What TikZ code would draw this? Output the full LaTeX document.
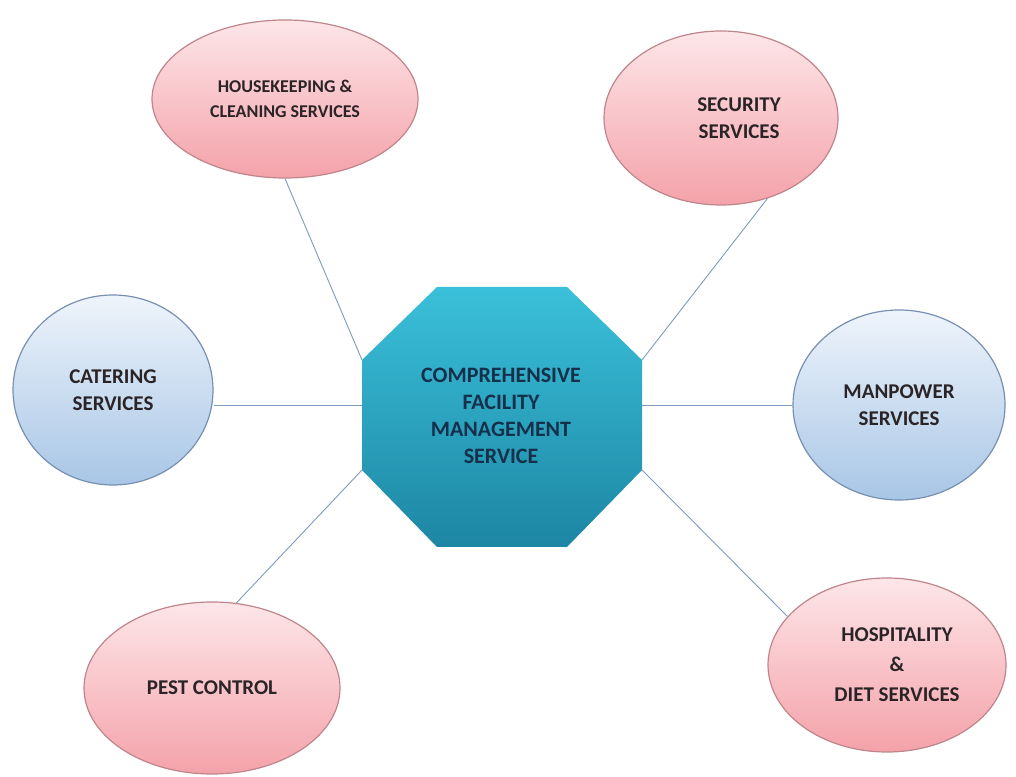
\documentclass[tikz,border=0pt]{standalone}
\usepackage{fontspec}
\setmainfont{Carlito}
\usepackage{tikz}
\usetikzlibrary{shapes.geometric,calc}
\definecolor{pinktop}{HTML}{FDE6E8}
\definecolor{pinkbottom}{HTML}{F4A2AA}
\definecolor{pinkedge}{HTML}{BF858B}
\definecolor{bluetop}{HTML}{EEF4FB}
\definecolor{bluebottom}{HTML}{A8C6E6}
\definecolor{blueedge}{HTML}{7890B0}
\definecolor{octtop}{HTML}{3AC0DA}
\definecolor{octbottom}{HTML}{1D86A4}
\definecolor{octtext}{HTML}{15304A}
\definecolor{spoke}{HTML}{7F9BBF}
\definecolor{labeltext}{HTML}{2B2426}

\tikzset{
  service/.style={ellipse, draw=pinkedge, line width=1.2pt, top color=pinktop,
    bottom color=pinkbottom, inner sep=0pt, align=center, text=labeltext,
    font=\bfseries\fontsize{21}{27}\selectfont},
  bluesrv/.style={service, draw=blueedge, top color=bluetop, bottom color=bluebottom},
  spokeline/.style={draw=spoke, line width=0.9pt}
}

\begin{document}
\begin{tikzpicture}[x=1pt,y=1pt]
    \fill[white] (0,0) rectangle (1016,776);
    \useasboundingbox (0,0) rectangle (1016,776);

    % Central octagon
    \coordinate (oct-n1) at (437,489);
    \coordinate (oct-n2) at (567,489);
    \coordinate (oct-ne) at (642,416);
    \coordinate (oct-se) at (642,306);
    \coordinate (oct-s2) at (567,229);
    \coordinate (oct-s1) at (437,229);
    \coordinate (oct-sw) at (362,306);
    \coordinate (oct-nw) at (362,416);
    \coordinate (oct-w) at (362,371);
    \coordinate (oct-e) at (642,371);
    \shade[top color=octtop, bottom color=octbottom]
        (oct-n1) -- (oct-n2) -- (oct-ne) -- (oct-se) -- (oct-s2)
        -- (oct-s1) -- (oct-sw) -- (oct-nw) -- cycle;
    \node[align=center, text=octtext, font=\bfseries\fontsize{22}{27}\selectfont]
        (hub) at (501,360) {COMPREHENSIVE\\FACILITY\\MANAGEMENT\\SERVICE};

    % Service ellipses
    \node[service, minimum width=266pt, minimum height=158pt,
        font=\bfseries\fontsize{18}{25}\selectfont] (house) at (285,677)
        {HOUSEKEEPING \&\\CLEANING SERVICES};
    \node[service, minimum width=234pt, minimum height=174pt] (security) at (721,658)
        {\hspace*{36pt}SECURITY\\\hspace*{36pt}SERVICES};
    \node[bluesrv, minimum width=200pt, minimum height=190pt] (catering) at (113,386)
        {CATERING\\SERVICES};
    \node[bluesrv, minimum width=212pt, minimum height=190pt] (manpower) at (899,371)
        {MANPOWER\\SERVICES};
    \node[service, minimum width=256pt, minimum height=172pt] (pest) at (212,88)
        {PEST CONTROL};
    \node[service, minimum width=238pt, minimum height=174pt,
        font=\bfseries\fontsize{21}{30}\selectfont] (hospitality) at (887,111)
        {\hspace*{20pt}HOSPITALITY\\\hspace*{20pt}\&\\\hspace*{20pt}DIET SERVICES};

    % Spokes
    \draw[spokeline] (house.south) -- (oct-nw);
    \draw[spokeline] (security.-60) -- (oct-ne);
    \draw[spokeline] (catering.east |- oct-w) -- (oct-w);
    \draw[spokeline] (manpower.west) -- (oct-e);
    \draw[spokeline] (pest.74) -- (oct-sw);
    \draw[spokeline] (hospitality.154) -- (oct-se);
\end{tikzpicture}
\end{document}
